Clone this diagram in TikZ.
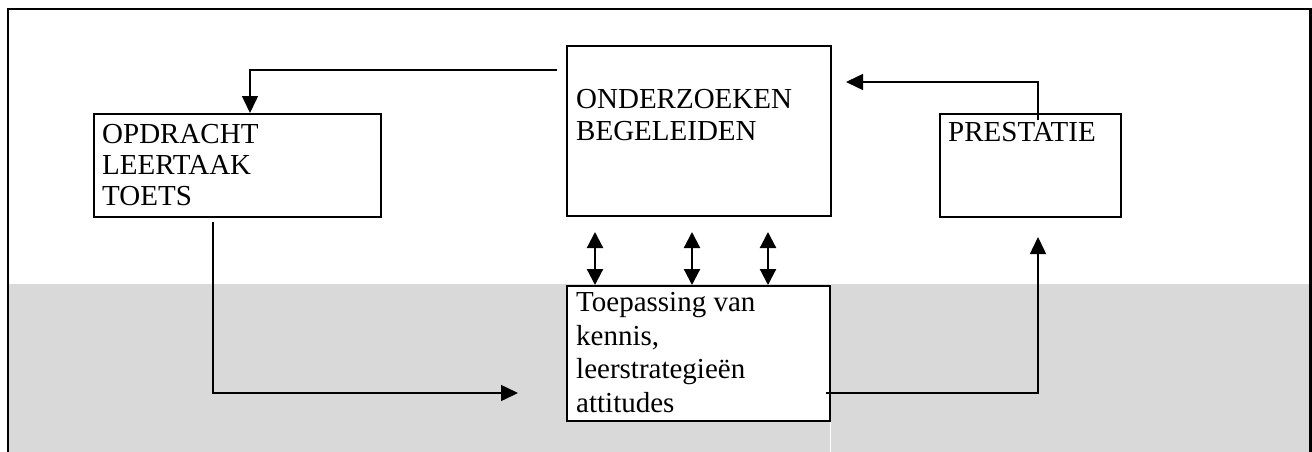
\documentclass[tikz,border=0pt]{standalone}
\usepackage{fontspec}
\setmainfont{Liberation Serif}
\usetikzlibrary{arrows.meta,calc}

\begin{document}
\begin{tikzpicture}[x=1pt,y=-1pt,
  box/.style={draw,line width=2pt,fill=white,inner sep=0pt,anchor=north west},
  lbl/.style={anchor=base west,inner sep=0pt,align=left,
    font=\fontsize{29}{31}\selectfont},
  conn/.style={line width=1.5pt},
  tip/.style={-{Triangle[length=17pt,width=16pt]}},
  twotip/.style={line width=2.2pt,{Triangle[length=16pt,width=16pt]}-{Triangle[length=16pt,width=16pt]}}
]
\useasboundingbox (0,0) rectangle (1312,452);

% shaded lower band, split by a thin white gap
\fill[black!15] (9,284) rectangle (829.5,452);
\fill[black!15] (830.5,284) rectangle (1310,452);

% outer frame (open at the bottom)
\draw[line width=2.2pt] (8,452) -- (8,9) -- (1310.5,9) -- (1310.5,452);

% boxes
\node[box,minimum width=287pt,minimum height=103pt] (opd) at (93,113) {};
\node[box,minimum width=264pt,minimum height=170pt] (ond) at (566,45) {};
\node[box,minimum width=181pt,minimum height=103pt] (pre) at (939,113) {};
\node[box,minimum width=263pt,minimum height=135pt] (toe) at (566,285) {};

% box texts (placed by the baseline of their last line)
\node[lbl] (opdt) at (102,205) {OPDRACHT\\LEERTAAK\\TOETS};
\node[lbl,font=\fontsize{29}{32}\selectfont] (ondt) at (576,140) {ONDERZOEKEN\\BEGELEIDEN};
\node[lbl] (pret) at (948,141) {PRESTATIE};
\node[lbl,font=\fontsize{29}{33.5}\selectfont] (toet) at (576,412)
  {Toepassing van\\kennis,\\leerstrategieën\\attitudes};

% connector end points
\coordinate (a1) at (557,70);
\coordinate (b1) at (213,222);
\coordinate (b2) at (518,393);
\coordinate (c1) at (826,393);
\coordinate (c2) at (1038,237);
\coordinate (d1) at (1038,120);
\coordinate (d2) at (846,82);
\coordinate (e1) at (595,232);
\coordinate (e2) at (692,232);
\coordinate (e3) at (768,232);

% feedback and flow connectors
\draw[conn,tip] (a1) -| ($(opd.north west)+(157,0)$);
\draw[conn,tip] (b1) |- (b2);
\draw[conn,tip] (c1) -| (c2);
\draw[conn,tip] (d1) |- (d2);

% two-way links between the two middle boxes
\draw[twotip] (e1) -- (e1 |- toe.north);
\draw[twotip] (e2) -- (e2 |- toe.north);
\draw[twotip] (e3) -- (e3 |- toe.north);
\end{tikzpicture}
\end{document}
